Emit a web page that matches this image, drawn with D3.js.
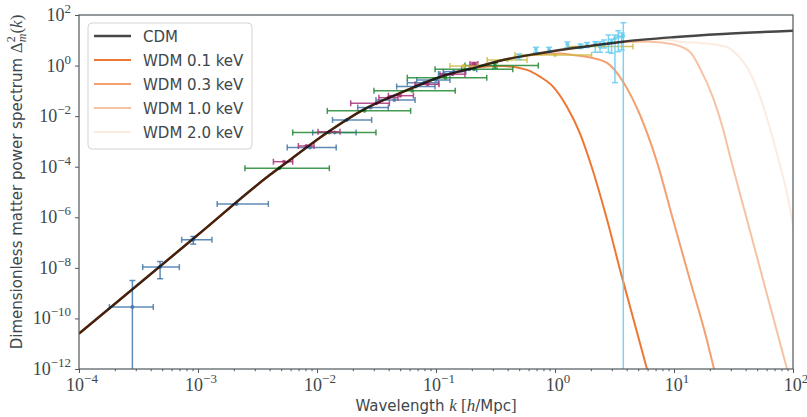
<!DOCTYPE html>
<html>
<head>
<meta charset="utf-8">
<script src="https://cdn.jsdelivr.net/npm/d3@7"></script>
<style>
  body { margin: 0; background: #fff; }
  svg { font-family: "DejaVu Sans", sans-serif; }
</style>
</head>
<body>
<svg id="chart" width="807" height="417"></svg>
<script>
// model curves: k in h/Mpc, Delta^2 dimensionless
var cdmK = [1e-4, 3.16e-4, 1e-3, 4.03e-3, 5.93e-3, 1.21e-2, 2.44e-2, 5.28e-2, 0.108, 0.221, 0.366, 0.748, 1.10, 1.97, 3.72, 9.82, 25.8, 100];
var cdmD = [2.51e-11, 2.24e-9, 2.04e-7, 4.79e-5, 1.86e-4, 2.19e-3, 1.78e-2, 9.12e-2, 0.355, 0.871, 1.66, 3.09, 4.14, 5.96, 8.81, 13.2, 17.7, 23.9];

var wdm01K = [1e-4, 3.16e-4, 1e-3, 4.03e-3, 5.93e-3, 1.21e-2, 2.44e-2, 5.28e-2, 0.108, 0.221, 0.366, 0.582, 0.748, 0.962, 1.26, 1.62, 2.01, 2.74, 3.52, 5.93];
var wdm01D = [2.51e-11, 2.24e-9, 2.04e-7, 4.79e-5, 1.86e-4, 2.19e-3, 1.78e-2, 9.12e-2, 0.355, 0.851, 0.955, 0.676, 0.363, 0.148, 2.34e-2, 2.09e-3, 1.17e-4, 7.94e-7, 8.32e-9, 1e-12];

var wdm03K = [1e-4, 3.16e-4, 1e-3, 4.03e-3, 5.93e-3, 1.21e-2, 2.44e-2, 5.28e-2, 0.108, 0.221, 0.366, 0.748, 1.10, 1.42, 1.97, 2.74, 3.72, 5.18, 7.19, 9.82, 13.6, 18.9, 21.7];
var wdm03D = [2.51e-11, 2.24e-9, 2.04e-7, 4.79e-5, 1.86e-4, 2.19e-3, 1.78e-2, 9.12e-2, 0.355, 0.871, 1.66, 2.82, 3.01, 2.62, 2.09, 1.27, 0.236, 1.11e-2, 1.55e-4, 7.94e-7, 3.39e-9, 1.41e-11, 1e-12];

var wdm10K = [1e-4, 3.16e-4, 1e-3, 4.03e-3, 5.93e-3, 1.21e-2, 2.44e-2, 5.28e-2, 0.108, 0.221, 0.366, 0.748, 1.10, 1.97, 3.72, 6.28, 9.82, 13.6, 16.5, 21.4, 25.8, 29.6, 40.8, 60.1, 89.1];
var wdm10D = [2.51e-11, 2.24e-9, 2.04e-7, 4.79e-5, 1.86e-4, 2.19e-3, 1.78e-2, 9.12e-2, 0.355, 0.871, 1.66, 3.09, 4.14, 5.96, 8.51, 8.71, 6.92, 3.55, 0.794, 5.01e-2, 3.16e-3, 2.51e-4, 8.91e-7, 1e-9, 1e-12];

var wdm20K = [1e-4, 3.16e-4, 1e-3, 4.03e-3, 5.93e-3, 1.21e-2, 2.44e-2, 5.28e-2, 0.108, 0.221, 0.366, 0.748, 1.10, 1.97, 3.72, 7.62, 11.2, 20.1, 27.9, 35.9, 41.0, 49.8, 67.9, 77.8, 89.1, 100];
var wdm20D = [2.51e-11, 2.24e-9, 2.04e-7, 4.79e-5, 1.86e-4, 2.19e-3, 1.78e-2, 9.12e-2, 0.355, 0.871, 1.66, 3.09, 4.14, 5.96, 8.81, 11.0, 8.81, 7.14, 5.43, 2.0, 0.881, 0.126, 1.26e-3, 1.12e-4, 8.91e-6, 5.01e-7];

var modelNames = ["CDM", "WDM 0.1 keV", "WDM 0.3 keV", "WDM 1.0 keV", "WDM 2.0 keV"];

// measurements: [k, kLo, kHi, D, DLo, DHi]  (null = no vertical bar)
var bluePts = [
  [2.81e-4, 1.80e-4, 4.21e-4, 2.82e-10, 1e-14, 3.16e-9],
  [4.80e-4, 3.43e-4, 6.97e-4, 1.07e-8, 3.72e-9, 1.78e-8],
  [9.12e-4, 7.29e-4, 1.31e-3, 1.29e-7, 8.7e-8, 1.74e-7],
  [2.11e-3, 1.45e-3, 3.90e-3, 3.39e-6, null, null],
  [8.73e-3, 5.62e-3, 1.45e-2, 5.69e-4, null, null],
  [1.41e-2, 9.2e-3, 2.13e-2, 2.24e-3, null, null],
  [1.78e-2, 1.35e-2, 2.88e-2, 7.08e-3, null, null],
  [2.82e-2, 2.20e-2, 3.97e-2, 2.19e-2, null, null],
  [4.47e-2, 3.13e-2, 6.67e-2, 4.37e-2, null, null],
  [6.76e-2, 4.67e-2, 9.82e-2, 0.148, null, null],
  [7.94e-2, 5.74e-2, 0.105, 0.209, null, null],
  [0.100, 6.89e-2, 0.131, 0.269, null, null],
  [0.117, 0.105, 0.131, 0.468, null, null],
  [0.141, 0.115, 0.178, 0.575, null, null],
  [0.191, 0.164, 0.220, 0.714, null, null]
];
var greenPts = [
  [4.82e-3, 2.48e-3, 1.27e-2, 8.71e-5, null, null],
  [1.26e-2, 6.25e-3, 3.13e-2, 2.24e-3, null, null],
  [2.51e-2, 1.22e-2, 6.12e-2, 1.62e-2, null, null],
  [6.31e-2, 3.01e-2, 0.145, 0.102, null, null],
  [0.120, 5.74e-2, 0.267, 0.331, null, null],
  [0.209, 9.82e-2, 0.442, 0.708, null, null],
  [0.313, 0.175, 0.724, 1.0, 0.79, 1.26]
];
var purplePts = [
  [5.28e-3, 4.30e-3, 6.25e-3, 1.58e-4, null, null],
  [8.13e-3, 6.97e-3, 9.44e-3, 6.61e-4, null, null],
  [1.29e-2, 1.02e-2, 1.56e-2, 2.40e-3, null, null],
  [3.16e-2, 1.92e-2, 4.06e-2, 3.24e-2, null, null],
  [3.98e-2, 3.31e-2, 4.79e-2, 5.37e-2, null, null],
  [5.01e-2, 3.98e-2, 6.46e-2, 6.46e-2, null, null],
  [8.51e-2, 6.67e-2, 0.106, 0.182, null, null],
  [0.138, 0.108, 0.175, 0.457, null, null],
  [0.209, 0.193, 0.225, 1.15, 1.0, 1.32]
];
var yellowPts = [
  [0.170, 0.131, 0.225, 0.955, null, null],
  [0.398, 0.269, 0.582, 1.66, null, null],
  [1.0, 0.461, 2.03, 2.63, null, null],
  [2.40, 1.29, 4.52, 5.62, null, null]
];
var cyanPts = [
  [0.501, null, null, 2.25, 1.74, 2.88],
  [0.692, null, null, 4.41, 3.35, 5.29],
  [0.891, null, null, 4.41, 3.35, 5.29],
  [1.27, null, null, 6.95, 5.19, 8.57],
  [1.64, null, null, 5.95, 4.74, 7.14],
  [1.86, null, null, 6.70, 5.19, 8.18],
  [2.18, null, null, 7.60, 3.35, 8.81],
  [2.39, null, null, 5.58, 3.35, 8.81],
  [2.58, null, null, 7.14, 4.96, 10.3],
  [2.81, null, null, 7.60, 3.35, 16.2],
  [2.99, null, null, 8.81, 3.06, 11.0],
  [3.19, null, null, 12.0, 0.211, 16.2],
  [3.40, null, null, 13.9, 3.54, 23.9],
  [3.64, null, null, 13.9, 4.14, 19.4],
  [3.75, null, null, 14.8, 1e-14, 49.6]
];

var xMajor = [1e-4, 1e-3, 1e-2, 1e-1, 1e0, 1e1, 1e2];
var yMajor = [1e-12, 1e-10, 1e-8, 1e-6, 1e-4, 1e-2, 1e0, 1e2];

var svg = d3.select("#chart");
var x = d3.scaleLog().domain([1e-4, 1e2]).range([79, 793]);
var y = d3.scaleLog().domain([1e-12, 1e2]).range([369, 15]);

var textCol = "#3e474c", spineCol = "#4f585c";

svg.append("clipPath").attr("id", "plotclip")
  .append("rect").attr("x", 79).attr("y", 15).attr("width", 714).attr("height", 354);

var plot = svg.append("g").attr("clip-path", "url(#plotclip)");

var line = d3.line()
  .x(function(d) { return x(d[0]); })
  .y(function(d) { return y(d[1]); })
  .curve(d3.curveMonotoneX);

var wdm = [
  {k: wdm20K, d: wdm20D, op: 0.15},
  {k: wdm10K, d: wdm10D, op: 0.45},
  {k: wdm03K, d: wdm03D, op: 0.7},
  {k: wdm01K, d: wdm01D, op: 1}
];
wdm.forEach(function(s) {
  plot.append("path")
    .attr("d", line(d3.zip(s.k, s.d)))
    .attr("fill", "none")
    .attr("stroke", "#ee7733")
    .attr("stroke-opacity", s.op)
    .attr("stroke-width", 2);
});

// error bars
function drawBars(pts, col) {
  var g = plot.append("g").attr("stroke", col).attr("stroke-width", 1.5).attr("stroke-opacity", 0.85);
  pts.forEach(function(p) {
    var cx = x(p[0]), cy = y(p[3]);
    if (p[1] != null) {
      var x0 = x(p[1]), x1 = x(p[2]);
      g.append("line").attr("x1", x0).attr("x2", x1).attr("y1", cy).attr("y2", cy);
      g.append("line").attr("x1", x0).attr("x2", x0).attr("y1", cy - 3).attr("y2", cy + 3);
      g.append("line").attr("x1", x1).attr("x2", x1).attr("y1", cy - 3).attr("y2", cy + 3);
    }
    if (p[4] != null) {
      var y0 = y(p[4]), y1 = y(p[5]);
      g.append("line").attr("x1", cx).attr("x2", cx).attr("y1", y0).attr("y2", y1);
      g.append("line").attr("x1", cx - 3).attr("x2", cx + 3).attr("y1", y0).attr("y2", y0);
      g.append("line").attr("x1", cx - 3).attr("x2", cx + 3).attr("y1", y1).attr("y2", y1);
    }
    g.append("circle").attr("cx", cx).attr("cy", cy).attr("r", 2)
      .attr("fill", col).attr("fill-opacity", 0.85).attr("stroke", "none");
  });
}
drawBars(bluePts, "#4477aa");
drawBars(greenPts, "#228833");
drawBars(purplePts, "#aa3377");
drawBars(yellowPts, "#ccbb44");
drawBars(cyanPts, "#66ccee");

plot.append("path")
  .attr("d", line(d3.zip(cdmK, cdmD)))
  .attr("fill", "none")
  .attr("stroke", "#000")
  .attr("stroke-opacity", 0.72)
  .attr("stroke-width", 2.5);

// axes
var xMinor = [];
xMajor.slice(0, -1).forEach(function(m) { for (var i = 2; i < 10; i++) xMinor.push(m * i); });

function styleAxis(g) {
  g.select(".domain").remove();
  g.selectAll("line").attr("stroke", spineCol).attr("stroke-width", 1);
}
svg.append("g").attr("transform", "translate(0,369)")
  .call(d3.axisBottom(x).tickValues(xMajor).tickSize(4).tickFormat(""))
  .call(styleAxis);
svg.append("g").attr("transform", "translate(0,369)")
  .call(d3.axisBottom(x).tickValues(xMinor).tickSize(2.2).tickFormat(""))
  .call(styleAxis);
svg.append("g").attr("transform", "translate(79,0)")
  .call(d3.axisLeft(y).tickValues(yMajor).tickSize(4).tickFormat(""))
  .call(styleAxis);

svg.append("rect").attr("x", 79).attr("y", 15).attr("width", 714).attr("height", 354)
  .attr("fill", "none").attr("stroke", spineCol).attr("stroke-width", 1.2);

function powLabel(v) {
  var e = Math.round(Math.log10(v));
  return e < 0 ? "\u2212" + (-e) : "" + e;
}
function tickText(sel, px, py, v, anchor) {
  var t = sel.append("text").attr("x", px).attr("y", py)
    .attr("text-anchor", anchor)
    .attr("font-family", "'Liberation Serif', serif")
    .attr("font-size", 18).attr("fill", textCol);
  t.append("tspan").text("10");
  t.append("tspan").attr("dy", -8).attr("font-size", 13).text(powLabel(v));
}
xMajor.forEach(function(v) { tickText(svg, x(v) + 3, 391, v, "middle"); });
yMajor.forEach(function(v) { tickText(svg, 71, y(v) + 6, v, "end"); });

// axis titles
var xl = svg.append("text").attr("x", 436).attr("y", 411).attr("text-anchor", "middle")
  .attr("font-size", 15).attr("fill", textCol);
xl.append("tspan").text("Wavelength ");
xl.append("tspan").attr("font-family", "'Liberation Serif', serif").attr("font-style", "italic").attr("font-size", 17).text("k");
xl.append("tspan").attr("font-family", "'Liberation Serif', serif").attr("font-size", 17).text(" [");
xl.append("tspan").attr("font-family", "'Liberation Serif', serif").attr("font-style", "italic").attr("font-size", 17).text("h");
xl.append("tspan").text("/Mpc");
xl.append("tspan").attr("font-family", "'Liberation Serif', serif").attr("font-size", 17).text("]");

var yl = svg.append("text").attr("transform", "translate(22,182) rotate(-90)")
  .attr("text-anchor", "middle").attr("font-size", 15).attr("fill", textCol);
yl.append("tspan").text("Dimensionless matter power spectrum ");
yl.append("tspan").attr("font-family", "'Liberation Serif', serif").attr("font-size", 17).text("\u0394");
yl.append("tspan").attr("font-family", "'Liberation Serif', serif").attr("font-size", 12).attr("dy", -7).text("2");
yl.append("tspan").attr("font-family", "'Liberation Serif', serif").attr("font-style", "italic").attr("font-size", 12).attr("dx", -6).attr("dy", 11).text("m");
yl.append("tspan").attr("font-family", "'Liberation Serif', serif").attr("font-size", 17).attr("dy", -4).text("(");
yl.append("tspan").attr("font-family", "'Liberation Serif', serif").attr("font-style", "italic").attr("font-size", 17).text("k");
yl.append("tspan").attr("font-family", "'Liberation Serif', serif").attr("font-size", 17).text(")");

// legend
var leg = svg.append("g");
leg.append("rect").attr("x", 88).attr("y", 23).attr("width", 164).attr("height", 126).attr("rx", 4)
  .attr("fill", "#fff").attr("fill-opacity", 0.85).attr("stroke", "#d4d4d4");
var legStyle = [
  {col: "#000", op: 0.72, w: 2.5},
  {col: "#ee7733", op: 1, w: 2},
  {col: "#ee7733", op: 0.7, w: 2},
  {col: "#ee7733", op: 0.45, w: 2},
  {col: "#ee7733", op: 0.15, w: 2}
];
modelNames.forEach(function(name, i) {
  var ly = 36 + i * 24;
  leg.append("line").attr("x1", 94).attr("x2", 131).attr("y1", ly).attr("y2", ly)
    .attr("stroke", legStyle[i].col).attr("stroke-opacity", legStyle[i].op).attr("stroke-width", legStyle[i].w);
  leg.append("text").attr("x", 143).attr("y", ly + 5.5).attr("font-size", 15).attr("fill", textCol).text(name);
});
</script>
</body>
</html>
